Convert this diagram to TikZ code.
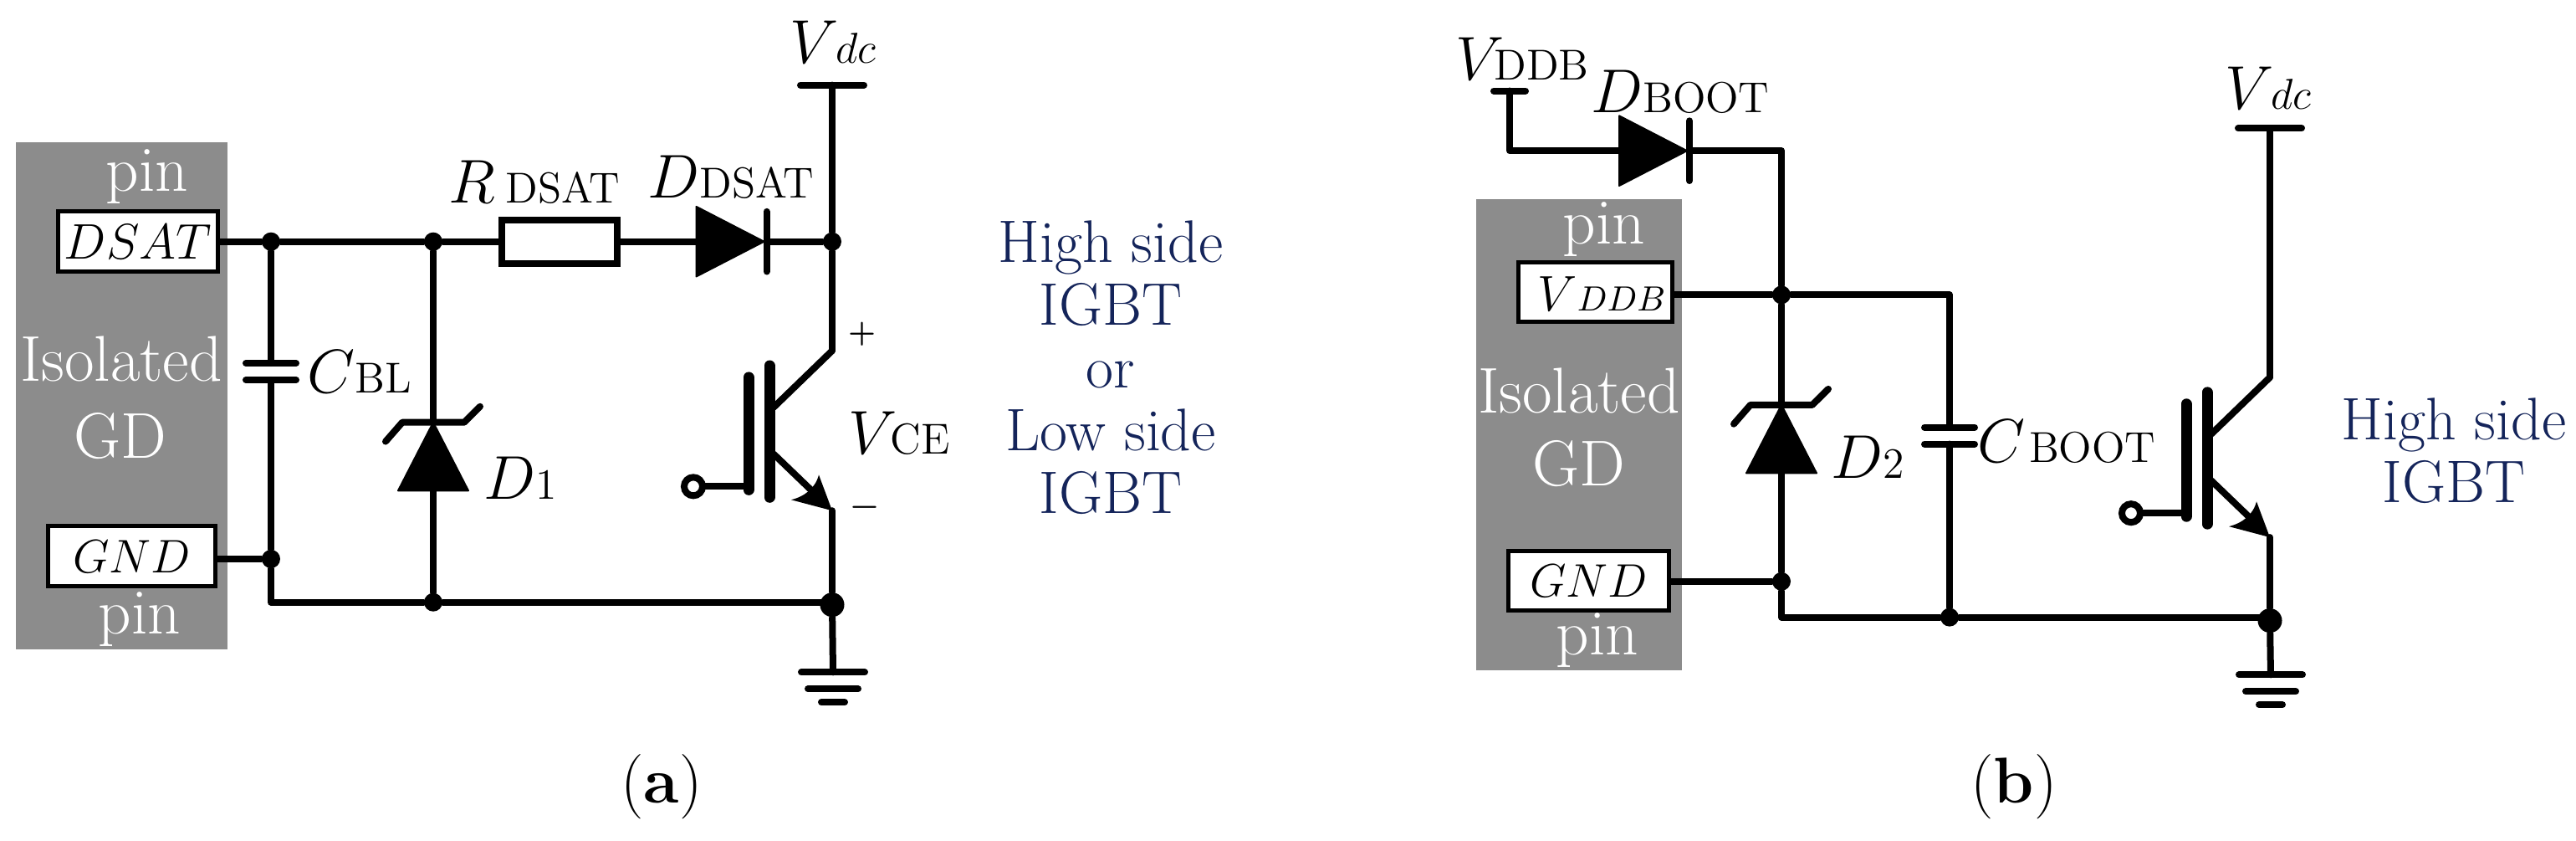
\documentclass[tikz,border=0pt]{standalone}
\usepackage{fix-cm}
\usepackage{amsmath}
\usepackage{xcolor}
\usetikzlibrary{positioning}
\definecolor{gdgray}{HTML}{8C8C8C}
\definecolor{notenavy}{HTML}{14245A}
\newcommand{\vlab}[2]{$#1{\scriptstyle #2}$}
\tikzstyle{wire} = [line width=0.08cm, line cap=round, line join=round, draw=black]
\tikzstyle{dot} = [circle, fill=black, inner sep=0pt, minimum size=0.22cm]
\tikzstyle{bigdot} = [circle, fill=black, inner sep=0pt, minimum size=0.29cm]
\tikzstyle{gdblock} = [rectangle, fill=gdgray, inner sep=0pt]
\tikzstyle{gdtext} = [text=white, inner sep=0pt, font=\fontsize{22}{26}\selectfont]
\tikzstyle{pinbox} = [rectangle, fill=white, draw=black, line width=0.05cm, inner sep=0pt, font=\fontsize{16}{18}\selectfont]
\tikzstyle{resbox} = [rectangle, fill=white, draw=black, line width=0.08cm, inner sep=0pt, minimum width=1.38cm, minimum height=0.52cm]
\tikzstyle{lbl} = [inner sep=0pt, font=\fontsize{21}{25}\selectfont]
\tikzstyle{polar} = [inner sep=0pt, font=\bfseries\fontsize{10.5}{12}\selectfont]
\tikzstyle{note} = [inner sep=0pt, align=center, text=notenavy, font=\fontsize{20.4}{21.3}\selectfont]
\tikzset{
  pics/diode/.style={code={
    \fill [line join=round, draw=black, line width=0.02cm] (-41,-42) -- (40,0) -- (-41,42) -- cycle;
    \draw [wire] (43,-36) -- (43,36);
    \coordinate (-a) at (-41,0);
    \coordinate (-k) at (43,0);
  }},
  pics/zener/.style={code={
    \fill [line join=round, draw=black, line width=0.02cm] (-42,41) -- (42,41) -- (0,-41) -- cycle;
    \draw [wire] (-57,-18) -- (-37,-41) -- (37,-41) -- (56,-60);
    \coordinate (-a) at (0,41);
    \coordinate (-k) at (0,-41);
  }},
  pics/capv/.style={code={
    \draw [wire] (-30,-10) -- (30,-10);
    \draw [wire] (-30,10) -- (30,10);
    \coordinate (-t) at (0,-10);
    \coordinate (-b) at (0,10);
  }},
  pics/ground/.style={code={
    \draw [wire] (-38,0) -- (38,0);
    \draw [wire] (-30,20) -- (30,20);
    \draw [wire] (-14,36) -- (14,36);
    \coordinate (-t) at (0,0);
  }},
  pics/igbt/.style={code={
    \draw [line width=0.13cm, line cap=round] (-100,-160) -- (-100,-25);
    \draw [line width=0.13cm, line cap=round] (-75,-174) -- (-75,-16);
    \draw [wire] (-70,-124) -- (0,-192);
    \draw [wire] (-70,-68) -- (-12,-12);
    \draw [wire] (-155,-29) -- (-100,-29);
    \draw [line width=0.08cm, fill=white] (-166,-29) circle (0.11cm);
    \fill (0,0) -- (-16,-43) .. controls (-20,-27) and (-33,-17) .. (-49,-13) -- cycle;
    \coordinate (-c) at (0,-192);
    \coordinate (-e) at (0,0);
  }}
}
\begin{document}
\begin{tikzpicture}[x=0.01cm, y=-0.00995cm]
\useasboundingbox (0,0) rectangle (3080,1009);

% panel a
\node (gda) [gdblock, minimum width=2.53cm, minimum height=6.06cm] at (145.5,475) {};
\node (pinat) [gdtext] at (176,212) {pin};
\node (isoa) [gdtext] at (145,431) {Isolated};
\node (gdnamea) [gdtext] at (144,523) {GD};
\node (pinab) [gdtext] at (167,743) {pin};
\node (dsat) [pinbox, minimum width=1.9cm, minimum height=0.72cm, font=\fontsize{17}{20}\selectfont] at (165,290) {$DSAT$};
\node (gnda) [pinbox, minimum width=1.99cm, minimum height=0.72cm] at (157.5,668) {$GND$};

\node (ja1) [dot] at (324,290) {};
\node (ja2) [dot] at (518,290) {};
\node (ja3) [dot] at (995,290) {};
\node (ja4) [dot] at (324,671) {};
\node (ja5) [dot] at (518,723) {};
\node (ja6) [bigdot] at (995,726) {};
\coordinate (corna) at (324,723);
\coordinate (vdca) at (995,102);
\node (rdsat) [resbox] at (669,290) {};
\pic (ddsat) at (873.5,290) {diode};
\pic (d1) at (518,548) {zener};
\pic (cbl) at (324,446) {capv};
\pic (qa) at (995,613) {igbt};
\pic (gra) at (996,807) {ground};

\draw [wire] (dsat.east) -- (ja1);
\draw [wire] (ja1) -- (ja2);
\draw [wire] (ja2) -- (rdsat.west);
\draw [wire] (rdsat.east) -- (ddsat-a);
\draw [wire] (ddsat-k) -- (ja3);
\draw [wire] ([xshift=-0.38cm]vdca) -- ([xshift=0.38cm]vdca);
\draw [wire] (vdca) -- (ja3);
\draw [wire] (ja3) -- (qa-c);
\draw [wire] (ja1) -- (cbl-t);
\draw [wire] (cbl-b) -- (ja4);
\draw [wire] (gnda.east |- ja4) -- (ja4);
\draw [wire] (ja4) -- (corna) -- (ja5);
\draw [wire] (ja2) -- (d1-k);
\draw [wire] (d1-a) -- (ja5);
\draw [wire] (ja5) -- (ja5 -| ja6);
\draw [wire] (qa-e) -- (ja6);
\draw [wire] (ja6) -- (gra-t);

\node (lrdsat) [lbl] at (639,218) {\vlab{R\,}{\mathrm{DSAT}}};
\node (lddsat) [lbl] at (874,212) {\vlab{D}{\mathrm{DSAT}}};
\node (lcbl) [lbl] at (430,446) {\vlab{C}{\mathrm{BL}}};
\node (ld1) [lbl] at (622,574) {\vlab{D}{1}};
\node (lvdca) [lbl] at (996,50) {\vlab{V\mkern-1mu}{dc}};
\node (lvce) [lbl] at (1075,520) {\vlab{V\mkern-2mu}{\mathrm{CE}}};
\node (lplus) [polar] at (1031,401) {+};
\node (lminus) [polar] at (1034,613) {−};
\node (notea) [note] at (1328,441) {High side\\IGBT\\or\\Low side\\IGBT};
\node (capa) [lbl, font=\fontsize{22}{26}\selectfont] at (791,944) {(\textbf{a})};

% panel b
\node (gdb) [gdblock, minimum width=2.46cm, minimum height=5.63cm] at (1888,522) {};
\node (pinbt) [gdtext] at (1918,275) {pin};
\node (isob) [gdtext] at (1888,469) {Isolated};
\node (gdnameb) [gdtext] at (1888,557) {GD};
\node (pinbb) [gdtext] at (1910,769) {pin};
\node (vddbbox) [pinbox, minimum width=1.83cm, minimum height=0.71cm] at (1907.5,350.5) {};
\node (vddbtxt) [inner sep=0pt, font=\fontsize{17}{19}\selectfont] at (1915,353) {\vlab{V}{DDB}};
\node (gndb) [pinbox, minimum width=1.91cm, minimum height=0.71cm] at (1899.5,697.5) {$GND$};

\node (jb1) [dot] at (2130,354) {};
\node (jb2) [dot] at (2130,698) {};
\node (jb3) [dot] at (2331,741) {};
\node (jb4) [bigdot] at (2714,745) {};
\coordinate (vddbt) at (1805,109);
\coordinate (vddbc) at (1805,181);
\coordinate (topb) at (2130,181);
\coordinate (cornb) at (2130,741);
\coordinate (cornc) at (2331,354);
\coordinate (vdcb) at (2714,154);
\pic (dboot) at (1977,181) {diode};
\pic (d2) at (2130,527) {zener};
\pic (cboot) at (2331,523) {capv};
\pic (qb) at (2714,645) {igbt};
\pic (grb) at (2715,810) {ground};

\draw [wire] ([xshift=-0.19cm]vddbt) -- ([xshift=0.19cm]vddbt);
\draw [wire] (vddbt) -- (vddbc) -- (dboot-a);
\draw [wire] (dboot-k) -- (topb) -- (jb1);
\draw [wire] (vddbbox.east |- jb1) -- (jb1);
\draw [wire] (jb1) -- (cornc) -- (cboot-t);
\draw [wire] (cboot-b) -- (jb3);
\draw [wire] (jb1) -- (d2-k);
\draw [wire] (d2-a) -- (jb2);
\draw [wire] (gndb.east |- jb2) -- (jb2);
\draw [wire] (jb2) -- (cornb) -- (jb3);
\draw [wire] (jb3) -- (jb3 -| jb4);
\draw [wire] ([xshift=-0.38cm]vdcb) -- ([xshift=0.38cm]vdcb);
\draw [wire] (vdcb) -- (qb-c);
\draw [wire] (qb-e) -- (jb4);
\draw [wire] (jb4) -- (grb-t);

\node (lvddb) [lbl] at (1820,71) {\vlab{V\mkern-3mu}{\mathrm{DDB}}};
\node (ldboot) [lbl] at (2009,110) {\vlab{D}{\mathrm{BOOT}}};
\node (ld2) [lbl] at (2233,549) {\vlab{D}{2}};
\node (lcboot) [lbl] at (2471,530) {\vlab{C\mkern1mu}{\mathrm{BOOT}}};
\node (lvdcb) [lbl] at (2712,106) {\vlab{V\mkern-1mu}{dc}};
\node (noteb) [note] at (2934,541) {High side\\IGBT};
\node (capb) [lbl, font=\fontsize{22}{26}\selectfont] at (2408,944) {(\textbf{b})};
\end{tikzpicture}
\end{document}
